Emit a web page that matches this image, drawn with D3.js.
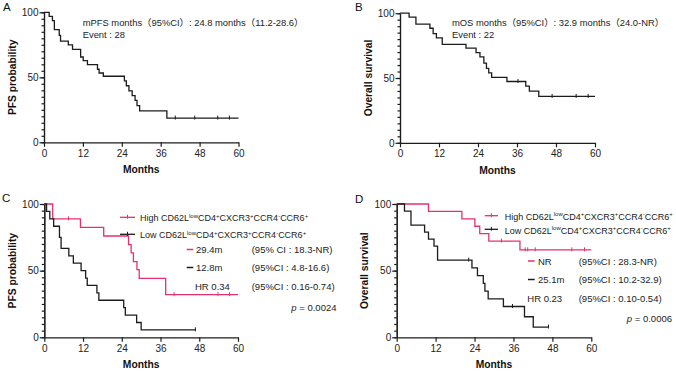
<!DOCTYPE html>
<html>
<head>
<meta charset="utf-8">
<script src="https://cdn.jsdelivr.net/npm/d3@7"></script>
<style>
  body { margin: 0; background: #fff; }
  svg { font-family: "Liberation Sans", Arial, "Noto Sans CJK SC", sans-serif; }
</style>
</head>
<body>
<svg id="chart" width="676" height="371"></svg>
<script>
// axis ticks
const xTicks = [0, 12, 24, 36, 48, 60];
const yTicks = [0, 50, 100];

// Kaplan-Meier steps: [month, survival % after the drop]
// A: PFS, whole cohort
const pfsAll = [[0, 100], [1.6, 96.8], [2.6, 93.6], [3.2, 86.6], [4.7, 82.2], [5.1, 77.8],
  [7.5, 75], [8.8, 71.5], [11.3, 65.6], [12.1, 62.9], [13.4, 59.8], [16.5, 56.2],
  [17, 53.3], [18.3, 50.8], [24.8, 47.2], [25.4, 43.5], [26.2, 39.5], [27.2, 35.9],
  [28.1, 32.2], [28.7, 28.2], [29.5, 24.2], [37.9, 18.6]];
const pfsAllEnd = 60;
const pfsAllCensor = [40.5, 46.5, 53.6, 57.2];

// B: OS, whole cohort
const osAll = [[0, 100], [2.8, 97], [4.9, 91.5], [9.2, 88.4], [10.2, 84.2], [11.2, 81],
  [13, 76], [20.3, 73], [23.4, 69.6], [24.6, 66.3], [25.8, 61.5], [26.6, 57.5],
  [27.3, 54], [28.2, 50.5], [32.9, 47.3], [38.7, 43.8], [39.8, 39.8], [42.7, 35.8]];
const osAllEnd = 60;
const osAllCensor = [36.3, 46.8, 54.2, 57.9];

// C: PFS by subset
const pfsHigh = [[0, 100], [2.6, 88.9], [11.2, 82.5], [18.4, 76], [26.1, 69.5], [26.9, 63.3],
  [27.6, 56.8], [28.7, 50.8], [29.4, 44.2], [37.6, 32]];
const pfsHighEnd = 60;
const pfsHighCensor = [7.5, 40.2, 53.8, 57.4];
const pfsLow = [[0, 100], [0.7, 94.4], [1.7, 88.9], [2.9, 83.3], [4.7, 75], [5.2, 66.7],
  [7.6, 61.1], [9, 55.6], [11.4, 50], [12.8, 44.4], [13.3, 38.9], [16.3, 33.3],
  [16.9, 27.8], [24.6, 22.2], [25.1, 16.7], [28.6, 11.1], [30, 5.6]];
const pfsLowEnd = 46.8;
const pfsLowCensor = [46.8];

// D: OS by subset
const osHigh = [[0, 100], [9.8, 94.4], [20.1, 88.9], [24.1, 83.3], [25.6, 77.8],
  [28.4, 72.2], [38, 65.6]];
const osHighEnd = 60;
const osHighCensor = [32.3, 39.6, 40.4, 42.7, 54, 57.9];
const osLow = [[0, 100], [2.4, 94.7], [4.4, 84.2], [8.6, 78.9], [9.8, 73.7], [11.5, 68.4],
  [12.6, 57.9], [23.2, 52.1], [24.9, 46.3], [26.7, 40.5], [27.2, 34.7], [28.2, 28.9],
  [32.9, 23.1], [39.4, 15.4], [42.1, 7.7]];
const osLowEnd = 46.8;
const osLowCensor = [22.2, 35.7, 46.8];

const red = "#e5326c";
const ink = "#1c1c1c";

const svg = d3.select("#chart");

// step value at time t
function survAt(steps, t) {
  let s = 100;
  steps.forEach(d => { if (d[0] <= t) s = d[1]; });
  return s;
}

function drawPanel(p) {
  const g = svg.append("g");
  const x = d3.scaleLinear().domain([0, 60]).range([p.left, p.right]);
  const y = d3.scaleLinear().domain([0, 100]).range([p.bottom, p.top]);

  // minor y ticks
  g.append("g")
    .attr("transform", `translate(${p.left},0)`)
    .call(d3.axisLeft(y).tickValues(d3.range(0, 101, 5)).tickSize(2.5).tickFormat("").tickSizeOuter(0));
  const yAxis = g.append("g")
    .attr("transform", `translate(${p.left},0)`)
    .call(d3.axisLeft(y).tickValues(yTicks).tickSize(4.5).tickPadding(1).tickSizeOuter(0));
  const xAxis = g.append("g")
    .attr("transform", `translate(0,${p.bottom})`)
    .call(d3.axisBottom(x).tickValues(xTicks).tickSize(4.5).tickPadding(3).tickSizeOuter(0));

  g.selectAll("path.domain, .tick line").attr("stroke", ink).attr("stroke-width", 1.2);
  g.selectAll(".tick text").attr("fill", "#222").style("font-size", "10px");

  // axis titles
  g.append("text")
    .attr("transform", `translate(${p.left - 28.5},${(p.top + p.bottom) / 2}) rotate(-90)`)
    .attr("text-anchor", "middle")
    .style("font-size", "10.3px").style("font-weight", "bold").attr("fill", "#111")
    .text(p.ytitle);
  g.append("text")
    .attr("x", (p.left + p.right) / 2).attr("y", p.bottom + 31)
    .attr("text-anchor", "middle")
    .style("font-size", "10.3px").style("font-weight", "bold").attr("fill", "#111")
    .text("Months");

  // panel letter
  g.append("text")
    .attr("x", p.letterX).attr("y", p.letterY)
    .style("font-size", "11.5px").attr("fill", "#111")
    .text(p.letter);

  const line = d3.line().x(d => x(d[0])).y(d => y(d[1])).curve(d3.curveStepAfter);

  p.curves.forEach(c => {
    const pts = c.steps.concat([[c.end, c.steps[c.steps.length - 1][1]]]);
    g.append("path")
      .attr("d", line(pts))
      .attr("fill", "none")
      .attr("stroke", c.color)
      .attr("stroke-width", 1.3);
    g.selectAll(null)
      .data(c.censor)
      .enter()
      .append("line")
      .attr("x1", d => x(d)).attr("x2", d => x(d))
      .attr("y1", d => y(survAt(c.steps, d)) - 2.5)
      .attr("y2", d => y(survAt(c.steps, d)) + 1.5)
      .attr("stroke", c.color)
      .attr("stroke-width", 1);
  });
  return g;
}

const panelA = drawPanel({
  letter: "A", letterX: 3, letterY: 11, left: 44, right: 238.5, top: 12.3, bottom: 142.3,
  ytitle: "PFS probability",
  curves: [{ steps: pfsAll, end: pfsAllEnd, censor: pfsAllCensor, color: ink }]
});
const panelB = drawPanel({
  letter: "B", letterX: 355, letterY: 11, left: 400, right: 595, top: 13.2, bottom: 142.8,
  ytitle: "Overall survival",
  curves: [{ steps: osAll, end: osAllEnd, censor: osAllCensor, color: ink }]
});
const panelC = drawPanel({
  letter: "C", letterX: 2, letterY: 202, left: 44.3, right: 238, top: 204, bottom: 337.3,
  ytitle: "PFS probability",
  curves: [{ steps: pfsHigh, end: pfsHighEnd, censor: pfsHighCensor, color: red },
           { steps: pfsLow, end: pfsLowEnd, censor: pfsLowCensor, color: ink }]
});
const panelD = drawPanel({
  letter: "D", letterX: 355, letterY: 203, left: 396.7, right: 591.3, top: 204, bottom: 337.3,
  ytitle: "Overall survival",
  curves: [{ steps: osHigh, end: osHighEnd, censor: osHighCensor, color: red },
           { steps: osLow, end: osLowEnd, censor: osLowCensor, color: ink }]
});

// text annotations for A and B
function note(x, y, txt, size) {
  return svg.append("text").attr("x", x).attr("y", y)
    .style("font-size", (size || 9.4) + "px").attr("fill", "#222").text(txt);
}
note(82.7, 26, "mPFS months（95%CI）: 24.8 months（11.2-28.6）");
note(82.7, 37.5, "Event : 28");
note(452, 26, "mOS months（95%CI）: 32.9 months（24.0-NR）");
note(452, 37.5, "Event : 22");

// legend labels with superscripts
const subsetParts = [["CD62L", 0], ["low", 1], ["CD4", 0], ["+", 1], ["CXCR3", 0], ["+", 1],
  ["CCR4", 0], ["-", 1], ["CCR6", 0], ["+", 1]];

function legendEntry(x, y, lineX0, lineX1, lineY, color, prefix) {
  svg.append("line").attr("x1", lineX0).attr("x2", lineX1).attr("y1", lineY).attr("y2", lineY)
    .attr("stroke", color).attr("stroke-width", 1.3);
  const mid = (lineX0 + lineX1) / 2;
  svg.append("line").attr("x1", mid).attr("x2", mid).attr("y1", lineY - 2.5).attr("y2", lineY + 1.5)
    .attr("stroke", color).attr("stroke-width", 1);
  const t = svg.append("text").attr("x", x).attr("y", y)
    .style("font-size", "9px").attr("fill", "#222");
  t.append("tspan").text(prefix + " ");
  let up = false;
  subsetParts.forEach(([s, sup]) => {
    const ts = t.append("tspan").text(s);
    if (sup && !up) { ts.attr("dy", -3.2).style("font-size", "6px"); up = true; }
    else if (sup) { ts.style("font-size", "6px"); }
    else if (up) { ts.attr("dy", 3.2); up = false; }
  });
}

legendEntry(140, 221, 120, 135, 217.3, red, "High");
legendEntry(140, 238, 120, 135, 234.3, ink, "Low");
legendEntry(504.7, 219.5, 484.7, 498, 215.7, red, "High");
legendEntry(504.7, 233.5, 484.7, 498, 229.3, ink, "Low");

function dash(x0, x1, y, color) {
  svg.append("line").attr("x1", x0).attr("x2", x1).attr("y1", y).attr("y2", y)
    .attr("stroke", color).attr("stroke-width", 1.5);
}

// C statistics
dash(186.7, 193.3, 249.5, red);
note(196, 253, "29.4m", 9.5);
note(251.7, 253, "(95% CI : 18.3-NR)", 9.5);
dash(186.7, 193.3, 267.5, ink);
note(196, 271, "12.8m", 9.5);
note(251.7, 271, "(95%CI : 4.8-16.6)", 9.5);
note(195, 289.5, "HR 0.34", 9.5);
note(251.7, 289.5, "(95%CI : 0.16-0.74)", 9.5);
const pC = note(336.5, 311, "", 9.5).attr("text-anchor", "end");
pC.append("tspan").style("font-style", "italic").text("p");
pC.append("tspan").text(" = 0.0024");

// D statistics
dash(528, 534.7, 261, red);
note(538, 264.5, "NR", 9.5);
note(578.7, 264.5, "(95%CI : 28.3-NR)", 9.5);
dash(528, 534.7, 279.5, ink);
note(538, 283, "25.1m", 9.5);
note(578.7, 283, "(95%CI : 10.2-32.9)", 9.5);
note(527.3, 302, "HR 0.23", 9.5);
note(578.7, 302, "(95%CI : 0.10-0.54)", 9.5);
const pD = note(672, 322, "", 9.5).attr("text-anchor", "end");
pD.append("tspan").style("font-style", "italic").text("p");
pD.append("tspan").text(" = 0.0006");
</script>
</body>
</html>
